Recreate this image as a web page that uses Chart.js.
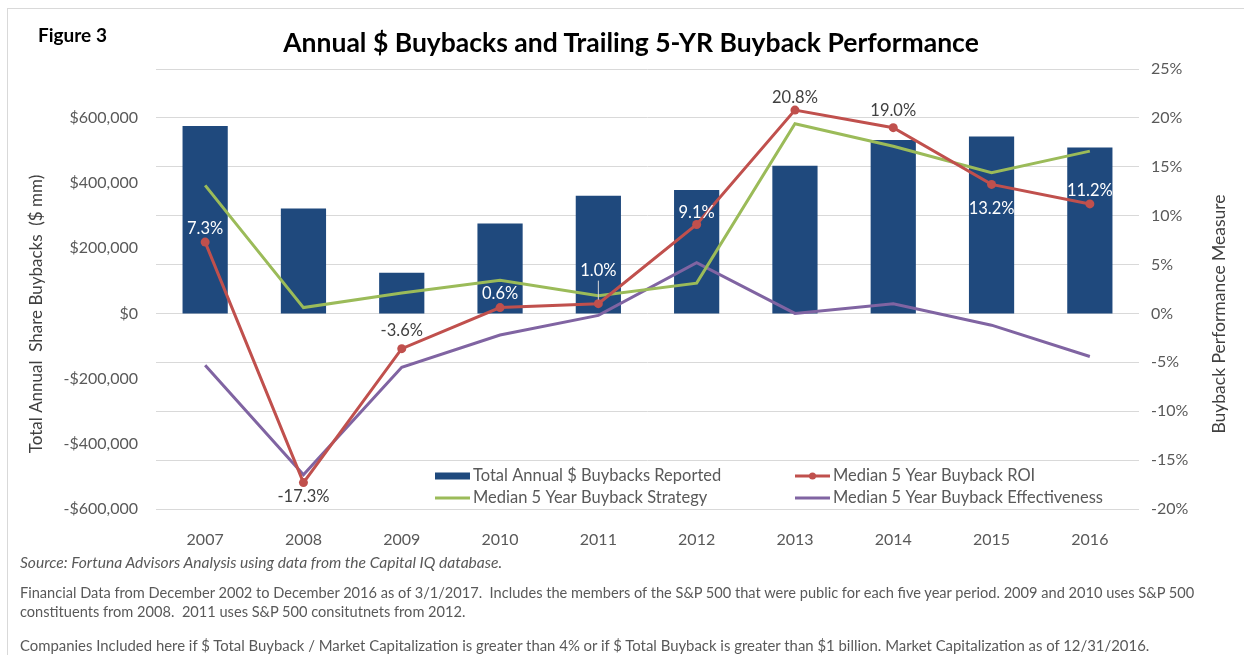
<!DOCTYPE html>
<html><head><meta charset="utf-8">
<script src="https://cdn.jsdelivr.net/npm/chart.js@4.4.1/dist/chart.umd.min.js"></script>
<style>
html,body{margin:0;padding:0;background:#fff;}
#wrap{position:relative;width:1244px;height:655px;overflow:hidden;font-family:Lato,sans-serif;}
#frame{position:absolute;left:7px;top:8px;width:1260px;height:680px;border:1px solid #d9d9d9;}
#fig{position:absolute;left:38px;top:25px;font-weight:bold;font-size:19px;color:#000;line-height:1;}
#title{position:absolute;left:0;width:1262px;text-align:center;top:29px;font-weight:bold;font-size:26.5px;color:#000;line-height:1;}
#c{position:absolute;left:0;top:0;}
.foot{position:absolute;left:20px;font-size:14.6px;color:#595959;white-space:nowrap;line-height:1;}
</style></head><body>
<div id="wrap">
<div id="frame"></div>
<canvas id="c" width="1244" height="655"></canvas>
<div id="fig">Figure 3</div>
<div id="title">Annual $ Buybacks and Trailing 5-YR Buyback Performance</div>
<div class="foot" style="top:555px;font-style:italic;font-size:15.6px;">Source: Fortuna Advisors Analysis using data from the Capital IQ database.</div>
<div class="foot" style="top:586px;">Financial Data from December 2002 to December 2016 as of 3/1/2017.&nbsp; Includes the members of the S&amp;P 500 that were public for each five year period. 2009 and 2010 uses S&amp;P 500</div>
<div class="foot" style="top:605px;">constituents from 2008.&nbsp; 2011 uses S&amp;P 500 consitutnets from 2012.</div>
<div class="foot" style="top:638px;font-size:14.9px;">Companies Included here if $ Total Buyback / Market Capitalization is greater than 4% or if $ Total Buyback is greater than $1 billion. Market Capitalization as of 12/31/2016.</div>
</div>
<script>
const years = ['2007','2008','2009','2010','2011','2012','2013','2014','2015','2016'];
const buybacks = [575000, 322000, 125000, 276000, 361000, 379000, 453000, 532000, 543000, 509000];
const roi = [7.3, -17.3, -3.6, 0.6, 1.0, 9.1, 20.8, 19.0, 13.2, 11.2];
const strategy = [13.1, 0.6, 2.1, 3.4, 1.8, 3.1, 19.4, 17.1, 14.4, 16.6];
const effectiveness = [-5.3, -16.5, -5.5, -2.2, -0.2, 5.2, 0.0, 1.0, -1.2, -4.4];
const leftTicks = [-600000, -400000, -200000, 0, 200000, 400000, 600000];
const rightTicks = [-20, -15, -10, -5, 0, 5, 10, 15, 20, 25];
const leftTitle = 'Total Annual  Share Buybacks  ($ mm)';
const rightTitle = 'Buyback Performance Measure';

const FONT = 'Lato';
const GRAY = '#595959';

function fmtMoney(v){
  if (v === 0) return '$0';
  const s = Math.abs(v).toLocaleString('en-US');
  return (v < 0 ? '-$' : '$') + s;
}

const roiLabels = {
  id: 'roiLabels',
  afterDatasetsDraw(chart, args, opts){
    const meta = chart.getDatasetMeta(1);
    const ctx = chart.ctx;
    ctx.save();
    ctx.font = '16.5px ' + FONT;
    ctx.textAlign = 'center';
    ctx.textBaseline = 'middle';
    meta.data.forEach((pt, i) => {
      const y = pt.y + opts.dy[i];
      if (opts.leader[i]) {
        ctx.strokeStyle = '#d9d9d9';
        ctx.lineWidth = 1;
        ctx.beginPath();
        ctx.moveTo(pt.x, y + 10);
        ctx.lineTo(pt.x, pt.y - 4);
        ctx.stroke();
      }
      ctx.fillStyle = opts.colors[i];
      ctx.fillText(roi[i].toFixed(1) + '%', pt.x, y);
    });
    ctx.restore();
  }
};

const axisTitles = {
  id: 'axisTitles',
  afterDraw(chart, args, opts){
    const ctx = chart.ctx;
    const a = chart.chartArea;
    const cy = (a.top + a.bottom) / 2 + opts.shift;
    ctx.save();
    ctx.fillStyle = '#404040';
    ctx.textAlign = 'center';
    ctx.textBaseline = 'middle';
    ctx.font = '17px ' + FONT;
    ctx.save(); ctx.translate(opts.leftX, cy); ctx.rotate(-Math.PI / 2); ctx.fillText(leftTitle, 0, 0); ctx.restore();
    ctx.font = '17.5px ' + FONT;
    ctx.save(); ctx.translate(opts.rightX, cy); ctx.rotate(-Math.PI / 2); ctx.fillText(rightTitle, 0, 0); ctx.restore();
    ctx.restore();
  }
};

const customLegend = {
  id: 'customLegend',
  afterDraw(chart, args, opts){
    const ctx = chart.ctx;
    const a = chart.chartArea;
    ctx.save();
    ctx.font = '16.5px ' + FONT;
    ctx.textBaseline = 'middle';
    ctx.textAlign = 'left';
    opts.items.forEach(it => {
      const ds = chart.data.datasets[it.ds];
      const x = a.left + it.x, y = a.top + it.y;
      if (ds.type === 'bar') {
        ctx.fillStyle = ds.backgroundColor;
        ctx.fillRect(x, y - 3.5, 35, 7);
      } else {
        ctx.strokeStyle = ds.borderColor;
        ctx.lineWidth = 3;
        ctx.beginPath();
        ctx.moveTo(x, y); ctx.lineTo(x + 35, y);
        ctx.stroke();
        if (ds.pointRadius > 0) {
          ctx.fillStyle = ds.borderColor;
          ctx.beginPath();
          ctx.arc(x + 17.5, y, 3.5, 0, Math.PI * 2);
          ctx.fill();
        }
      }
      ctx.fillStyle = GRAY;
      ctx.fillText(ds.label, x + 38, y);
    });
    ctx.restore();
  }
};

new Chart(document.getElementById('c'), {
  data: {
    labels: years,
    datasets: [
      { type: 'bar', label: 'Total Annual $ Buybacks Reported', data: buybacks, yAxisID: 'yL',
        backgroundColor: '#1f497d', barPercentage: 0.46, categoryPercentage: 1.0, order: 10 },
      { type: 'line', label: 'Median 5 Year Buyback ROI', data: roi, yAxisID: 'yR',
        borderColor: '#c0504d', backgroundColor: '#c0504d', borderWidth: 3, pointRadius: 4.5,
        pointBackgroundColor: '#c0504d', pointBorderWidth: 0, tension: 0, order: 1 },
      { type: 'line', label: 'Median 5 Year Buyback Strategy', data: strategy, yAxisID: 'yR',
        borderColor: '#9bbb59', borderWidth: 3, pointRadius: 0, tension: 0, order: 2 },
      { type: 'line', label: 'Median 5 Year Buyback Effectiveness', data: effectiveness, yAxisID: 'yR',
        borderColor: '#8064a2', borderWidth: 3, pointRadius: 0, tension: 0, order: 3 }
    ]
  },
  options: {
    responsive: false,
    animation: false,
    layout: { padding: { top: 69, bottom: 0, left: 0, right: 0 } },
    plugins: {
      legend: { display: false },
      tooltip: { enabled: false },
      roiLabels: {
        dy: [-13, 14, -18, -14, -33, -12, -12, -17, 24, -13],
        leader: [false, false, false, false, true, false, false, false, false, false],
        colors: ['#ffffff', '#404040', '#404040', '#ffffff', '#ffffff', '#ffffff', '#404040', '#404040', '#ffffff', '#ffffff']
      },
      axisTitles: { leftX: 37, rightX: 1219, shift: 25 },
      customLegend: {
        items: [
          { ds: 0, x: 279, y: 407 },
          { ds: 1, x: 639, y: 407 },
          { ds: 2, x: 279, y: 429 },
          { ds: 3, x: 639, y: 429 }
        ]
      }
    },
    scales: {
      x: {
        grid: { display: false },
        border: { display: false },
        ticks: { color: GRAY, font: { family: FONT, size: 16 }, padding: 13 },
        afterFit(s){ s.height = 146; }
      },
      yL: {
        type: 'linear', position: 'left', min: -600000, max: 750000,
        afterBuildTicks(s){ s.ticks = leftTicks.map(v => ({ value: v })); },
        grid: { display: false },
        border: { display: false },
        ticks: { color: GRAY, font: { family: FONT, size: 16 }, padding: 10, callback: v => fmtMoney(v) },
        afterFit(s){ s.width = 156; }
      },
      yR: {
        type: 'linear', position: 'right', min: -20, max: 25,
        afterBuildTicks(s){ s.ticks = rightTicks.map(v => ({ value: v })); },
        grid: { color: '#d9d9d9', lineWidth: 1, drawTicks: false },
        border: { display: false },
        ticks: { color: GRAY, font: { family: FONT, size: 16 }, padding: 12, callback: v => v + '%' },
        afterFit(s){ s.width = 105; }
      }
    }
  },
  plugins: [roiLabels, axisTitles, customLegend]
});
</script>
</body></html>
